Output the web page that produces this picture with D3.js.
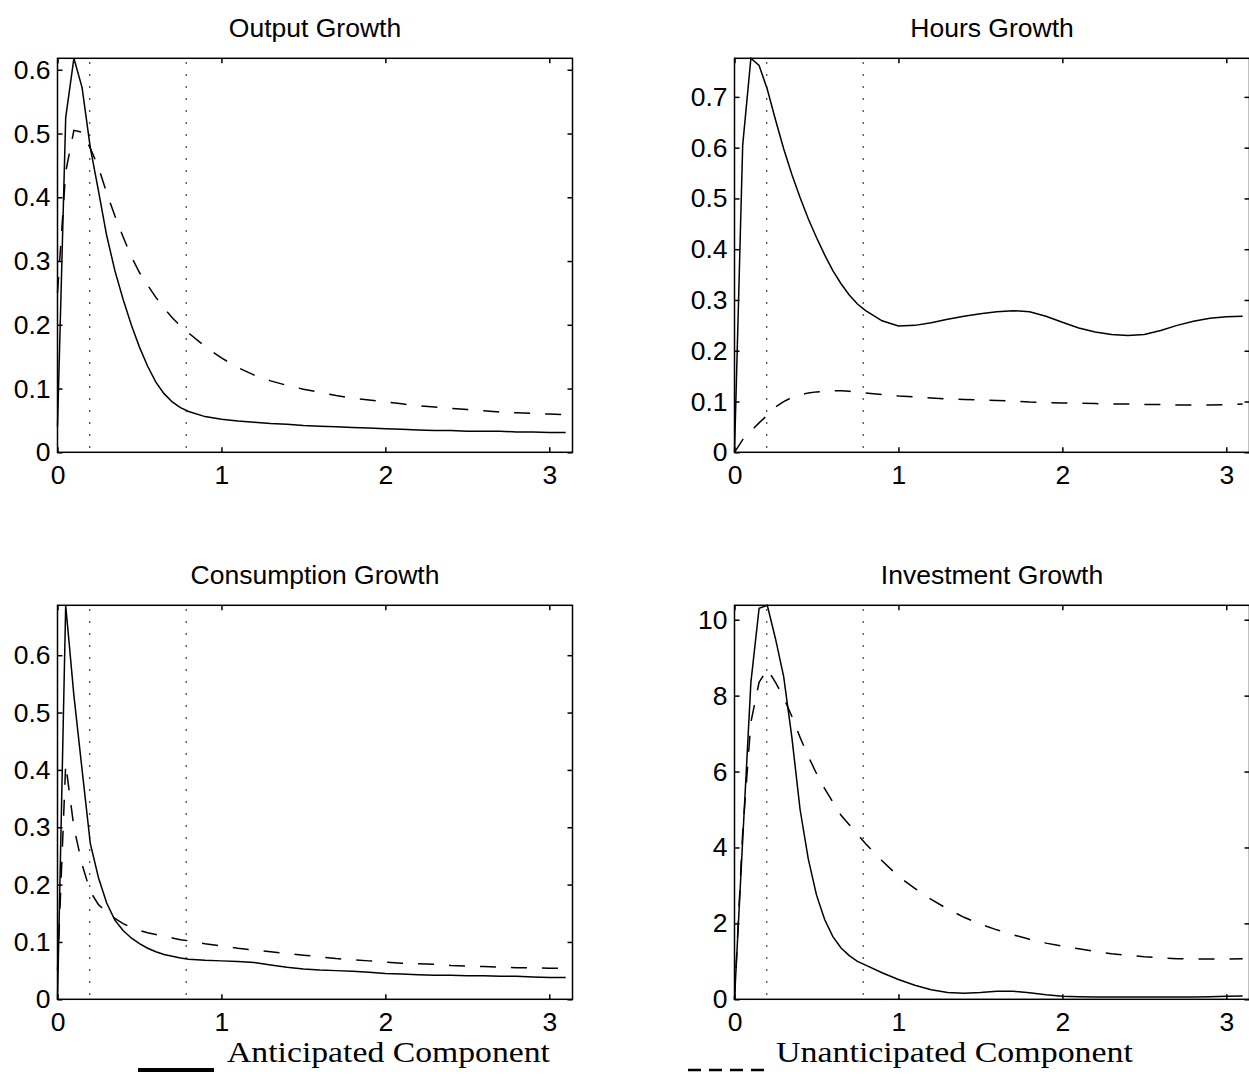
<!DOCTYPE html>
<html>
<head>
<meta charset="utf-8">
<script src="https://cdn.jsdelivr.net/npm/d3@7"></script>
<style>
  body { margin: 0; background: #fff; }
  svg { display: block; }
  .tick text, .title { font-family: "Liberation Sans", Arial, Helvetica, sans-serif; font-size: 26.5px; fill: #000; }
  .tick line { stroke: #000; stroke-width: 1.5; }
  .legend text { font-family: "Liberation Serif", "DejaVu Serif", serif; font-size: 29px; fill: #000; }
</style>
</head>
<body>
<script>
// frequency grid (radians)
var freq = [0, 0.05, 0.1, 0.15, 0.2, 0.25, 0.3, 0.35, 0.4, 0.45, 0.5, 0.55, 0.6, 0.65, 0.7, 0.75, 0.8,
  0.9, 1.0, 1.1, 1.2, 1.3, 1.4, 1.5, 1.6, 1.7, 1.8, 1.9, 2.0, 2.1, 2.2, 2.3, 2.4, 2.5, 2.6, 2.7, 2.8, 2.9, 3.0, 3.1];

// output growth
var outputAnt = [0.04, 0.525, 0.618, 0.572, 0.478, 0.41, 0.34, 0.285, 0.24, 0.2, 0.165, 0.135, 0.11, 0.092, 0.079, 0.07, 0.064,
  0.056, 0.052, 0.049, 0.047, 0.045, 0.044, 0.042, 0.041, 0.040, 0.039, 0.038, 0.037, 0.036, 0.035, 0.034, 0.034, 0.033, 0.033, 0.033, 0.032, 0.032, 0.031, 0.031];
var outputUnant = [0.25, 0.44, 0.505, 0.502, 0.477, 0.447, 0.407, 0.371, 0.338, 0.307, 0.282, 0.262, 0.243, 0.226, 0.211, 0.198, 0.187,
  0.166, 0.148, 0.133, 0.121, 0.112, 0.105, 0.099, 0.094, 0.089, 0.085, 0.082, 0.079, 0.076, 0.073, 0.071, 0.069, 0.067, 0.065, 0.063, 0.062, 0.061, 0.060, 0.059];

// hours growth
var hoursAnt = [0.0, 0.605, 0.776, 0.762, 0.715, 0.655, 0.598, 0.547, 0.502, 0.46, 0.423, 0.389, 0.358, 0.332, 0.31, 0.292, 0.279,
  0.259, 0.249, 0.25, 0.255, 0.262, 0.268, 0.273, 0.277, 0.279, 0.277, 0.268, 0.256, 0.245, 0.237, 0.232, 0.230, 0.232, 0.240, 0.250, 0.258, 0.264, 0.267, 0.268];
var hoursUnant = [0, 0.025, 0.042, 0.058, 0.073, 0.089, 0.1, 0.108, 0.113, 0.117, 0.119, 0.12, 0.121, 0.121, 0.12, 0.118, 0.117,
  0.114, 0.111, 0.109, 0.107, 0.105, 0.104, 0.103, 0.102, 0.101, 0.099, 0.098, 0.097, 0.097, 0.096, 0.095, 0.095, 0.094, 0.094, 0.093, 0.093, 0.093, 0.094, 0.095];

// consumption growth
var consAnt = [0.0, 0.687, 0.53, 0.40, 0.272, 0.212, 0.168, 0.138, 0.12, 0.107, 0.097, 0.089, 0.083, 0.078, 0.075, 0.072, 0.07,
  0.068, 0.067, 0.066, 0.064, 0.06, 0.056, 0.053, 0.051, 0.05, 0.049, 0.047, 0.045, 0.044, 0.043, 0.042, 0.042, 0.041, 0.041, 0.040, 0.040, 0.039, 0.038, 0.038];
var consUnant = [0.05, 0.41, 0.3, 0.235, 0.188, 0.165, 0.152, 0.141, 0.132, 0.125, 0.12, 0.116, 0.113, 0.11, 0.107, 0.104, 0.102,
  0.097, 0.093, 0.089, 0.086, 0.083, 0.08, 0.077, 0.074, 0.071, 0.069, 0.067, 0.065, 0.063, 0.062, 0.061, 0.059, 0.058, 0.057, 0.056, 0.055, 0.055, 0.054, 0.054];

// investment growth
var invAnt = [0, 4.2, 8.35, 10.3, 10.38, 9.5, 8.5, 6.9, 5.0, 3.7, 2.75, 2.1, 1.65, 1.35, 1.15, 1.0, 0.9,
  0.7, 0.52, 0.37, 0.25, 0.18, 0.16, 0.18, 0.21, 0.21, 0.17, 0.12, 0.08, 0.07, 0.06, 0.06, 0.06, 0.06, 0.06, 0.06, 0.06, 0.07, 0.08, 0.09];
var invUnant = [0, 4.4, 7.3, 8.35, 8.7, 8.35, 7.95, 7.45, 6.9, 6.4, 5.95, 5.55, 5.2, 4.85, 4.6, 4.35, 4.1,
  3.65, 3.24, 2.92, 2.63, 2.38, 2.16, 1.98, 1.83, 1.7, 1.58, 1.48, 1.4, 1.33, 1.26, 1.2, 1.16, 1.12, 1.09, 1.07, 1.06, 1.06, 1.06, 1.07];

// business cycle band (periods in quarters) and tick labels
var bandPeriods = [32, 8];
var xTicks = [0, 1, 2, 3];
var outputTicks = [0, 0.1, 0.2, 0.3, 0.4, 0.5, 0.6];
var hoursTicks = [0, 0.1, 0.2, 0.3, 0.4, 0.5, 0.6, 0.7];
var consTicks = [0, 0.1, 0.2, 0.3, 0.4, 0.5, 0.6];
var invTicks = [0, 2, 4, 6, 8, 10];

var titles = ["Output Growth", "Hours Growth", "Consumption Growth", "Investment Growth"];
var antSeries = [outputAnt, hoursAnt, consAnt, invAnt];
var unantSeries = [outputUnant, hoursUnant, consUnant, invUnant];
var yTickSets = [outputTicks, hoursTicks, consTicks, invTicks];
var legendLabels = ["Anticipated Component", "Unanticipated Component"];

// layout
var plotW = 515, plotH = 394;
var colX = [57.5, 734.5], rowY = [58.3, 605.3];

var svg = d3.select("body").append("svg")
    .attr("width", 1249)
    .attr("height", 1078);

titles.forEach(function(title, i) {
  var g = svg.append("g")
      .attr("transform", "translate(" + colX[i % 2] + "," + rowY[Math.floor(i / 2)] + ")");

  var x = d3.scaleLinear().domain([0, Math.PI]).range([0, plotW]);
  var y = d3.scaleLinear()
      .domain([0, d3.max(antSeries[i].concat(unantSeries[i]))])
      .range([plotH, 0]);

  // dotted band edges
  g.selectAll(".band")
      .data(bandPeriods)
      .enter()
      .append("line")
      .attr("x1", function(d) { return x(2 * Math.PI / d); })
      .attr("x2", function(d) { return x(2 * Math.PI / d); })
      .attr("y1", 4)
      .attr("y2", plotH)
      .attr("stroke", "#222")
      .attr("stroke-width", 1.4)
      .attr("stroke-dasharray", "1.4,10.6");

  var line = d3.line()
      .x(function(d, j) { return x(freq[j]); })
      .y(function(d) { return y(d); });

  g.append("path")
      .attr("d", line(unantSeries[i]))
      .attr("fill", "none")
      .attr("stroke", "#000")
      .attr("stroke-width", 1.5)
      .attr("stroke-dasharray", "16,15");

  g.append("path")
      .attr("d", line(antSeries[i]))
      .attr("fill", "none")
      .attr("stroke", "#000")
      .attr("stroke-width", 1.5);

  // axes, ticks pointing inward on all four sides
  g.append("g")
      .attr("transform", "translate(0," + plotH + ")")
      .call(d3.axisBottom(x).tickValues(xTicks).tickSize(-5).tickPadding(12.5).tickFormat(d3.format("d")))
      .call(function(a) { a.select(".domain").remove(); });
  g.append("g")
      .call(d3.axisTop(x).tickValues(xTicks).tickSize(-5).tickFormat(""))
      .call(function(a) { a.select(".domain").remove(); });
  g.append("g")
      .call(d3.axisLeft(y).tickValues(yTickSets[i]).tickSize(-5).tickPadding(7).tickFormat(d3.format("~g")))
      .call(function(a) { a.select(".domain").remove(); });
  g.append("g")
      .attr("transform", "translate(" + plotW + ",0)")
      .call(d3.axisRight(y).tickValues(yTickSets[i]).tickSize(-5).tickFormat(""))
      .call(function(a) { a.select(".domain").remove(); });

  g.selectAll(".tick text").attr("fill", "#000");

  g.append("rect")
      .attr("width", plotW)
      .attr("height", plotH)
      .attr("fill", "none")
      .attr("stroke", "#000")
      .attr("stroke-width", 1.5);

  g.append("text")
      .attr("class", "title")
      .attr("x", plotW / 2)
      .attr("y", -21.3)
      .attr("text-anchor", "middle")
      .text(title);
});

// legend
var legend = svg.append("g").attr("class", "legend");

legend.append("line")
    .attr("x1", 138).attr("x2", 214)
    .attr("y1", 1070).attr("y2", 1070)
    .attr("stroke", "#000")
    .attr("stroke-width", 4);
legend.append("text")
    .attr("x", 227).attr("y", 1062)
    .attr("textLength", 323)
    .attr("lengthAdjust", "spacingAndGlyphs")
    .text(legendLabels[0]);

legend.append("line")
    .attr("x1", 688).attr("x2", 765)
    .attr("y1", 1070).attr("y2", 1070)
    .attr("stroke", "#000")
    .attr("stroke-width", 2.5)
    .attr("stroke-dasharray", "13,8");
legend.append("text")
    .attr("x", 776).attr("y", 1062)
    .attr("textLength", 357)
    .attr("lengthAdjust", "spacingAndGlyphs")
    .text(legendLabels[1]);
</script>
</body>
</html>
